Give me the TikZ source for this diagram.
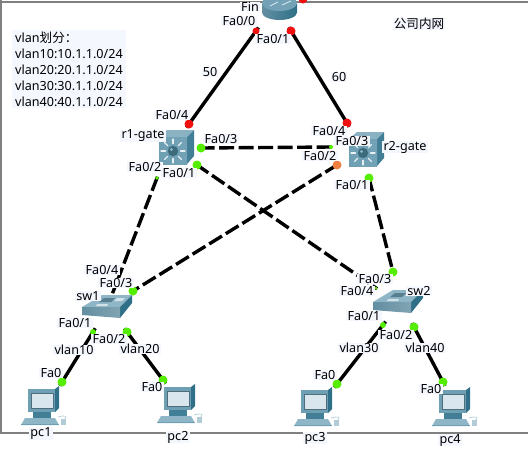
\documentclass[tikz,border=0pt]{standalone}
\usepackage{fontspec}
\setmainfont{Noto Sans}
\newfontfamily\cjkfont{Noto Sans CJK SC}
\usetikzlibrary{calc}
\definecolor{labelbg}{HTML}{F5F7FF}
\definecolor{frameg}{HTML}{808080}
\definecolor{iconlt}{HTML}{8FB6C6}
\definecolor{iconmd}{HTML}{6E9FB3}
\definecolor{icondk}{HTML}{2F7088}
\definecolor{screenc}{HTML}{D9E6EE}
\definecolor{dotgreen}{HTML}{55EE00}
\definecolor{dotred}{HTML}{F01010}
\definecolor{dotorange}{HTML}{F08040}
\tikzset{
  lab/.style={fill=labelbg,inner xsep=1.2pt,inner ysep=0.3pt,text=black,font=\fontsize{12.6}{13}\selectfont},
  solidlink/.style={line width=3.4,black,shorten <=-9,shorten >=-9},
  dashlink/.style={line width=3.4,black,dash pattern=on 15 off 4.5,shorten <=-6,shorten >=-6},
  framel/.style={line width=2.2,frameg},
  port/.style={circle,inner sep=0,minimum size=9},
  pics/mlsw/.style={code={
    \fill[iconlt!85!iconmd] (-14,-14) -- (-6,-21) -- (21,-21) -- (14,-14) -- cycle;
    \fill[icondk!70!iconmd] (14,-14) -- (21,-21) -- (21,5) -- (14,13) -- cycle;
    \shade[left color=iconmd,right color=iconmd!85!iconlt] (-14,-14) rectangle (14,13);
    \foreach \a in {0,45,...,315}{\draw[white!80!iconlt,line width=1.2,line cap=round] (\a:7.5) -- (\a:12);}
    \fill[icondk!55!iconmd!80!black] (0,0) circle (5.2);
    \fill[iconmd!80!white] (-1.5,-1.5) circle (1.6);
  }},
  pics/lsw/.style={code={
    \fill[iconlt] (-3,-10) -- (27,-10) -- (15,2) -- (-23,2) -- cycle;
    \fill[icondk] (27,-10) -- (27,-2) -- (15,13) -- (15,2) -- cycle;
    \shade[left color=iconmd!90!black,right color=iconlt!90!black] (-23,2) -- (15,2) -- (15,13) -- (-23,10) -- cycle;
    \fill[iconmd!80!black] (-1,-7) -- (10,-7) -- (6,-3) -- (-6,-3) -- cycle;
    \fill[white!60!iconlt] (12,-7) -- (20,-7) -- (17,-4) -- (9,-4) -- cycle;
    \fill[white!60!iconlt] (-8,-1) -- (3,-1) -- (2,1) -- (-9,1) -- cycle;
  }},
  pics/pcicon/.style={code={
    \fill[icondk] (27,0) -- (31,-3) -- (31,19) -- (27,23) -- cycle;
    \fill[iconmd] (0,0) rectangle (27,23);
    \fill[screenc,draw=iconmd!70!black,line width=0.4] (3,4) rectangle (25,19);
    \fill[icondk!70!iconmd] (5,23) rectangle (23,29);
    \fill[iconlt] (-3,29) -- (27,29) -- (31,36) -- (-7,36) -- cycle;
    \fill[iconmd] (-7,34.5) rectangle (31,36);
    \fill[iconlt!70!white] (33,30) rectangle (38,36);
    \draw[iconlt!70!white,line width=0.7] (30,28) .. controls (36,26) and (40,27) .. (37,30);
  }}
}
\begin{document}
\begin{tikzpicture}[x=1pt,y=-1pt]
\useasboundingbox (0,0) rectangle (528,448);
\clip (0,0) rectangle (528,448);
\fill[white] (0,0) rectangle (528,448);
\draw[framel] (0,1.7) -- (528,1.7);
\draw[framel] (1,0) -- (1,433) -- (528,433);

% ports
\node[port] (rp0) at (256,31) {};
\node[port] (rp1) at (291,31) {};
\node[port] (rp2) at (303,-1) {};
\node[port] (a4) at (189,124) {};
\node[port] (b4) at (347,123) {};
\node[port] (a3) at (201,148) {};
\node[port] (b3) at (331,147) {};
\node[port] (a1) at (197,165) {};
\node[port] (b2) at (337,165) {};
\node[port] (a2) at (157,178) {};
\node[port] (b1) at (369,178) {};
\node[port] (c4) at (113,292) {};
\node[port] (c3) at (133,291) {};
\node[port] (c1) at (93,332) {};
\node[port] (c2) at (127,332) {};
\node[port] (d3) at (393,272) {};
\node[port] (d4) at (376,288) {};
\node[port] (d1) at (383,325) {};
\node[port] (d2) at (414,327) {};
\node[port] (p1) at (62,382) {};
\node[port] (p2) at (163,380) {};
\node[port] (p3) at (337,384) {};
\node[port] (p4) at (443,382) {};

% connectors
\draw[solidlink] (rp0) -- (a4);
\draw[solidlink] (rp1) -- (b4);
\draw[dashlink] (a3) -- (b3);
\draw[dashlink] (a1) -- (d4);
\draw[dashlink] (b2) -- (c3);
\draw[dashlink] (a2) -- (c4);
\draw[dashlink] (b1) -- (d3);
\draw[solidlink] (c1) -- (p1);
\draw[solidlink] (c2) -- (p2);
\draw[solidlink] (d1) -- (p3);
\draw[solidlink] (d2) -- (p4);

% port dots above the connectors
\foreach \n/\c/\r in {rp0/dotred/3.5,rp1/dotred/4.5,rp2/dotred/4.5,a4/dotred/4.5,b4/dotred/4.5,a3/dotgreen/4.5,b3/dotgreen/2,a1/dotgreen/4.5,b2/dotorange/4.5,a2/dotgreen/1.8,b1/dotgreen/4.5,c3/dotgreen/4.5,c1/dotgreen/3,c2/dotgreen/4.5,d3/dotgreen/4.5,d4/dotgreen/1.5,d1/dotgreen/3,d2/dotgreen/4.5,p1/dotgreen/4.5,p2/dotgreen/4.5,p3/dotgreen/4.5,p4/dotgreen/4.5}{
  \fill[\c] (\n) circle (\r);
}

% devices
\shade[left color=iconmd!90!black,middle color=white!65!iconlt,right color=icondk] (262,4) -- (262,12.5) arc[start angle=180,end angle=0,x radius=17.5,y radius=7.5] -- (297,4) -- cycle;
\fill[iconmd!85!iconlt] (279.5,3) ellipse (17.5 and 8);
\draw[white!70!iconlt,line width=0.8] (270,6) -- (278,2) (282,5) -- (291,1);
\pic at (173,151) {mlsw};
\pic at (363,153) {mlsw};
\pic at (105,305) {lsw};
\pic at (396,300) {lsw};
\pic at (28,389) {pcicon};
\pic at (164,387) {pcicon};
\pic at (301,390) {pcicon};
\pic at (439,390) {pcicon};

% labels
\node[lab] (lfin) at (250,6.5) {Fin};
\node[lab] (l1) at (239,21) {Fa0/0};
\node[lab] (l2) at (273,39) {Fa0/1};
\node[lab] (l3) at (210,72) {50};
\node[lab] (l4) at (339,77) {60};
\node[lab] (l5) at (172,115) {Fa0/4};
\node[lab] (l6) at (143,136) {r1-gate};
\node[lab] (l7) at (221,139) {Fa0/3};
\node[lab] (l8) at (145,167) {Fa0/2};
\node[lab] (l9) at (179,173) {Fa0/1};
\node[lab] (l11) at (352,141) {Fa0/3};
\node[lab] (l10) at (329,131) {Fa0/4};
\node[lab] (l12) at (320,156) {Fa0/2};
\node[lab] (l13) at (405,147) {r2-gate};
\node[lab] (l14) at (352,185) {Fa0/1};
\node[lab] (l16) at (116,283) {Fa0/3};
\node[lab] (l15) at (102,270) {Fa0/4};
\node[lab] (l17) at (88,296) {sw1};
\node[lab] (l18) at (75,323) {Fa0/1};
\node[lab] (l19) at (109,339) {Fa0/2};
\node[lab] (l20) at (74,350) {vlan10};
\node[lab] (l21) at (140,349) {vlan20};
\node[lab] (l22) at (51,373) {Fa0};
\node[lab] (l23) at (152,387) {Fa0};
\node[lab] (l24) at (41,434) {pc1};
\node[lab] (l25) at (178,437) {pc2};
\node[lab] (l26) at (375,279) {Fa0/3};
\node[lab] (l27) at (357,291) {Fa0/4};
\node[lab] (l28) at (419,291) {sw2};
\node[lab] (l29) at (364,316) {Fa0/1};
\node[lab] (l30) at (396,335) {Fa0/2};
\node[lab] (l31) at (359,348) {vlan30};
\node[lab] (l32) at (425,348) {vlan40};
\node[lab] (l33) at (325,375) {Fa0};
\node[lab] (l34) at (431,389) {Fa0};
\node[lab] (l35) at (315,438) {pc3};
\node[lab] (l36) at (450,440) {pc4};
\node[lab,align=left,anchor=north west,inner xsep=3pt,inner ysep=1.5pt,font=\fontsize{12.6}{16}\selectfont] (vl) at (12,30) {vlan{\cjkfont 划分：}\\vlan10:10.1.1.0/24\\vlan20:20.1.1.0/24\\vlan30:30.1.1.0/24\\vlan40:40.1.1.0/24};
\node[lab] (corp) at (419,24) {\cjkfont 公司内网};
\end{tikzpicture}
\end{document}
